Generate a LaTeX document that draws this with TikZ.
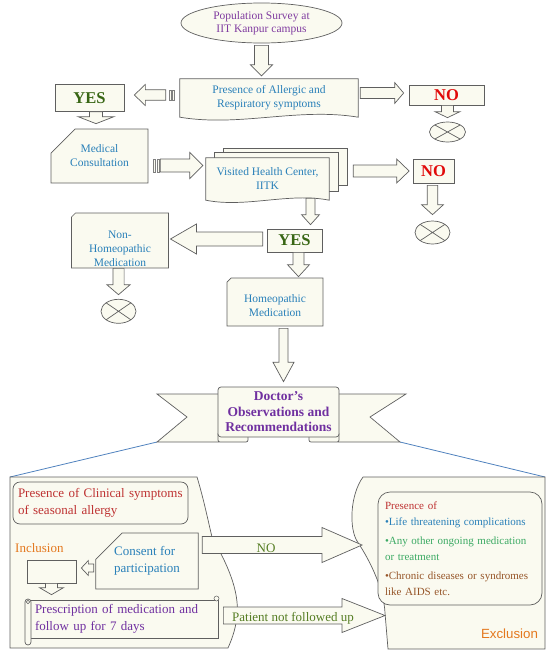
\documentclass[tikz,border=0pt]{standalone}
\usepackage{fontspec}
\setmainfont{Liberation Serif}
\newfontfamily\exclfont{Liberation Sans}
\usetikzlibrary{shapes.geometric,shapes.misc,calc,backgrounds}

\definecolor{paper}{RGB}{250,250,240}
\definecolor{edge}{RGB}{95,95,95}
\definecolor{txtblue}{RGB}{41,128,185}
\definecolor{txtpurple}{RGB}{128,60,160}
\definecolor{docpurple}{RGB}{112,48,160}
\definecolor{yesgreen}{RGB}{56,102,20}
\definecolor{nored}{RGB}{225,10,10}
\definecolor{clinred}{RGB}{190,50,50}
\definecolor{incorange}{RGB}{228,120,30}
\definecolor{leafgreen}{RGB}{85,125,35}
\definecolor{mint}{RGB}{60,170,100}
\definecolor{rust}{RGB}{150,85,40}
\definecolor{linkblue}{RGB}{80,130,190}

\begin{document}
\begin{tikzpicture}[x=1pt,y=-1pt,
  box/.style={draw=edge,fill=paper,line width=.7pt},
  arrowbox/.style={box,line join=miter},
  stripe/.style={fill=paper,draw=edge!80,line width=.4pt},
  plain/.style={inner sep=0pt,align=center,text=txtblue,font=\fontsize{11.5}{14}\selectfont},
  survey/.style={box,ellipse,inner sep=0pt,align=center,text=txtpurple,font=\fontsize{11.5}{13.5}\selectfont},
  card/.style={box,chamfered rectangle,chamfered rectangle corners=north west,
    chamfered rectangle xsep=18pt,chamfered rectangle ysep=10pt,inner sep=2pt,
    align=center,text=txtblue,font=\fontsize{11.5}{14}\selectfont},
  yesno/.style={box,inner sep=0pt,font=\bfseries\fontsize{16.5}{18}\selectfont},
  cross/.style={box,ellipse,inner sep=0pt,minimum width=35pt,minimum height=23pt,
    path picture={\draw[edge,line width=.7pt]
      (path picture bounding box.north west) -- (path picture bounding box.south east)
      (path picture bounding box.north east) -- (path picture bounding box.south west);}},
  lowtxt/.style={inner sep=0pt,font=\fontsize{13}{17}\selectfont},
  link/.style={draw=linkblue,line width=.8pt},
  fat/.style n args={3}{to path={
    let \p1=(\tikztostart), \p2=(\tikztotarget), \n1={atan2(\y2-\y1,\x2-\x1)} in
    ($(\p1)+({\n1+90}:#1)$) -- ($(\p2)+({\n1+180}:#3)+({\n1+90}:#1)$)
    -- ($(\p2)+({\n1+180}:#3)+({\n1+90}:#2)$) -- (\p2)
    -- ($(\p2)+({\n1+180}:#3)+({\n1-90}:#2)$) -- ($(\p2)+({\n1+180}:#3)+({\n1-90}:#1)$)
    -- ($(\p1)+({\n1-90}:#1)$) -- cycle}}]

  \useasboundingbox (0,0) rectangle (556,672);

  % lower panels
  \path (157,442) coordinate (wingL) (400,442) coordinate (wingR)
        (10,477) coordinate (inclC) (545,477) coordinate (exclC);
  \draw[link] (wingL) -- (inclC) (wingR) -- (exclC);
  \path[box] (10,477) -- (197,477) .. controls (204,500) and (209,525) .. (212,537)
    .. controls (226,562) and (240,590) .. (237,617)
    .. controls (235,632) and (231,641) .. (228,648) -- (10,648) -- cycle;
  \path[box] (545,477) -- (363,477) .. controls (350,495) and (349,528) .. (357,541)
    .. controls (371,562) and (384,590) .. (385,613) -- (388,649) -- (545,649) -- cycle;

  % banner
  \path[box] (157,394) -- (219,394) -- (219,442) -- (157,442) -- (187,417) -- cycle;
  \path[box] (406,394) -- (338,394) -- (338,442) -- (400,442) -- (370,417) -- cycle;
  \path[box,rounded corners=2pt] (218,432) rectangle (248,442);
  \path[box,rounded corners=2pt] (309,432) rectangle (339,442);
  \node[box,rounded corners=3pt,minimum width=121pt,minimum height=50pt,inner sep=0pt,
    align=center,text=docpurple,font=\bfseries\fontsize{13.5}{15.5}\selectfont]
    (doctor) at (278.5,412) {Doctor’s\\Observations and\\Recommendations};

  % top part
  \node[survey,minimum width=161pt,minimum height=40pt] (survey) at (261.5,23)
    {Population Survey at\\IIT Kanpur campus};
  \node[plain,minimum width=178pt,minimum height=38pt] (allergy) at (269,98)
    {Presence of Allergic and\\Respiratory symptoms};
  \node[yesno,text=yesgreen,minimum width=69pt,minimum height=27pt] (yes1) at (89.5,98) {YES};
  \node[yesno,text=nored,minimum width=75pt,minimum height=20pt] (no1) at (446.5,95) {NO};
  \node[cross,minimum width=36pt,minimum height=20pt] (cross1) at (447.5,132) {};
  \node[card,chamfered rectangle xsep=21pt,chamfered rectangle ysep=11pt,
    minimum width=97pt,minimum height=54pt] (medical) at (99.5,156)
    {Medical\\Consultation};
  \node[plain,minimum width=123pt,minimum height=42pt] (visited) at (267.5,179)
    {Visited Health Center,\\IITK};
  \node[yesno,text=nored,minimum width=41pt,minimum height=24pt] (no2) at (433.5,171) {NO};
  \node[cross] (cross2) at (432.5,232.5) {};
  \node[yesno,text=yesgreen,minimum width=55pt,minimum height=23pt] (yes2) at (294.5,240.5) {YES};
  \node[card,chamfered rectangle xsep=17pt,minimum width=97pt,minimum height=55pt]
    (nonhomeo) at (120,240.5) {};
  \node[plain] (nonhomeotxt) at (120,249) {Non-\\Homeopathic\\Medication};
  \node[cross,minimum height=24pt] (cross3) at (118.5,311.3) {};
  \node[card,chamfered rectangle xsep=19pt,chamfered rectangle ysep=8pt,
    minimum width=96pt,minimum height=48pt] (homeo) at (275,302) {};
  \node[plain] (homeotxt) at (275,305.5) {Homeopathic\\Medication};

  % document shapes
  \begin{scope}[on background layer]
    \path[box] (allergy.north west) -- (allergy.north east) -- (allergy.south east)
      .. controls +(-60pt,10pt) and +(60pt,-10pt) .. (allergy.south west) -- cycle;
    \path[box] ([shift={(18pt,9pt)}]visited.north west) rectangle ([shift={(18pt,15pt)}]visited.south east);
    \path[box] ([shift={(9pt,5pt)}]visited.north west) rectangle ([shift={(9pt,9pt)}]visited.south east);
    \path[box] (visited.north west) -- (visited.north east) -- (visited.south east)
      .. controls +(-40pt,8pt) and +(40pt,-8pt) .. (visited.south west) -- cycle;
  \end{scope}

  % top arrows
  \draw[arrowbox] ([yshift=-2pt]survey.south) to[fat={7pt}{11pt}{11pt}] ([shift={(-7.5pt,3pt)}]allergy.north);
  \draw[arrowbox] ([shift={(-14pt,3pt)}]allergy.west) to[fat={5.3pt}{10.6pt}{11pt}] ([shift={(10pt,3pt)}]yes1.east);
  \foreach \d in {5.5,9}
    \path[stripe] ([shift={(-\d pt,8.3pt)}]allergy.west) rectangle ([shift={(-\d pt-2pt,-2.3pt)}]allergy.west);
  \draw[arrowbox] ([shift={(2pt,5pt)}]allergy.east) to[fat={5.5pt}{10.5pt}{9pt}] ([shift={(-5pt,2pt)}]no1.west);
  \draw[arrowbox] ([xshift=6.5pt]yes1.south) to[fat={6.5pt}{18pt}{7pt}] ([shift={(-3.5pt,5pt)}]medical.north);
  \draw[arrowbox] ([xshift=1pt]no1.south) to[fat={6pt}{12.5pt}{6pt}] ([yshift=4pt]cross1.north);
  \draw[arrowbox] ([shift={(12pt,-9.5pt)}]medical.east) to[fat={6.5pt}{13pt}{13pt}] ([shift={(-3pt,13.5pt)}]visited.west);
  \foreach \d in {5,8.5}
    \path[stripe] ([shift={(\d pt,-3pt)}]medical.east) rectangle ([shift={(\d pt+2pt,-16pt)}]medical.east);
  \draw[arrowbox] ([shift={(24pt,8pt)}]visited.east) to[fat={6pt}{12pt}{12.5pt}] ([xshift=-3.5pt]no2.west);
  \draw[arrowbox] ([shift={(-1pt,-2pt)}]no2.south) to[fat={5.3pt}{11pt}{10pt}] ([yshift=6pt]cross2.north);
  \draw[arrowbox] ([shift={(43pt,2pt)}]visited.south) to[fat={4.5pt}{9pt}{10pt}] ([shift={(16pt,4pt)}]yes2.north);
  \draw[arrowbox] ([shift={(-4pt,1.5pt)}]yes2.west) to[fat={7pt}{15pt}{26pt}] ([shift={(1.6pt,1.5pt)}]nonhomeo.east);
  \draw[arrowbox] ([xshift=4pt]yes2.south) to[fat={5.5pt}{11pt}{12pt}] ([shift={(23.5pt,1pt)}]homeo.north);
  \draw[arrowbox] ([xshift=-1.5pt]nonhomeo.south) to[fat={5.6pt}{11.7pt}{10pt}] ([yshift=4.3pt]cross3.north);
  \draw[arrowbox] ([shift={(8.5pt,-2pt)}]homeo.south) to[fat={4.5pt}{10.6pt}{19.5pt}] ([shift={(5pt,5pt)}]doctor.north);

  % inclusion
  \node[box,rounded corners=7pt,minimum width=175pt,minimum height=42pt,inner sep=5pt,
    text width=165pt,align=left,text=clinred,font=\fontsize{13}{17}\selectfont]
    (clin) at (100.5,503) {Presence of Clinical symptoms\\of seasonal allergy};
  \node[lowtxt,text=incorange,anchor=west] (incl) at (15,548) {Inclusion};
  \node[box,minimum width=49pt,minimum height=23pt] (inclbox) at (51.5,571.5) {};
  \node[card,chamfered rectangle xsep=18pt,chamfered rectangle ysep=10pt,align=left,
    font=\fontsize{13}{17}\selectfont,minimum width=79pt,minimum height=56pt]
    (consent) at (147,561) {Consent for\\participation};
  \node[box,minimum width=188pt,minimum height=38pt,inner sep=4pt,text width=178pt,
    align=left,text=docpurple,font=\fontsize{13}{17}\selectfont]
    (scroll) at (124,619) {Prescription of medication and\\follow up for 7 days};
  \path[box,rounded corners=3pt] (25,599) rectangle (31,645);
  \path[box,line width=.5pt] (28,602) circle (1.8pt) (216.5,598.5) circle (2.5pt);
  \path (inclbox.south |- scroll.north) coordinate (incltip);
  \draw[arrowbox] (inclbox.south) to[fat={6pt}{12pt}{7pt}] ([yshift=5pt]incltip);
  \draw[arrowbox] ([shift={(-1.5pt,-7pt)}]consent.west) to[fat={4pt}{7.5pt}{7pt}] ([shift={(5pt,3.5pt)}]inclbox.east);

  % exclusion
  \path (362,545) coordinate (noend) (385,615.5) coordinate (fuend);
  \draw[arrowbox] ([shift={(3.5pt,16pt)}]consent.east) to[fat={8.5pt}{17.5pt}{40pt}] (noend);
  \draw[arrowbox] ([shift={(5pt,3.5pt)}]scroll.east) to[fat={8.5pt}{17pt}{43pt}] (fuend);
  \node[lowtxt,text=leafgreen] (notxt) at (266,548) {NO};
  \node[lowtxt,text=leafgreen] (futxt) at (293,618) {Patient not followed up};
  \node[box,rounded corners=12pt,minimum width=164pt,minimum height=113pt,inner sep=5pt,
    text width=150pt,align=left,font=\fontsize{11}{15.5}\selectfont]
    (crit) at (460,548.5)
    {\textcolor{clinred}{Presence of}\\
     \textcolor{txtblue}{•Life threatening complications}\\[4pt]
     \textcolor{mint}{•Any other ongoing medication}\\
     \textcolor{mint}{or treatment}\\[4pt]
     \textcolor{rust}{•Chronic diseases or syndromes}\\
     \textcolor{rust}{like AIDS etc.}};
  \node[text=incorange,inner sep=0pt,font=\exclfont\fontsize{13.3}{16}\selectfont]
    (excl) at (509.5,634) {Exclusion};
\end{tikzpicture}
\end{document}
